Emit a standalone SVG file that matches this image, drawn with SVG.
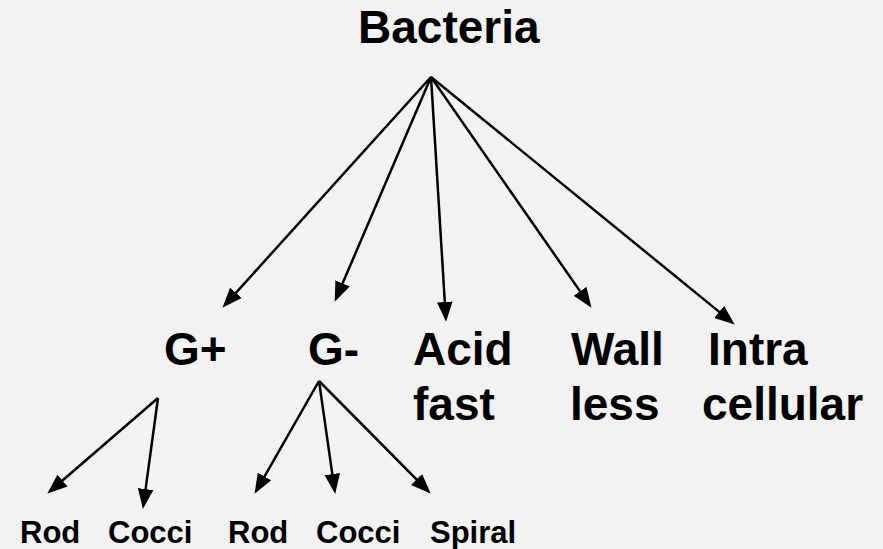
<svg xmlns="http://www.w3.org/2000/svg" width="883" height="549" viewBox="0 0 883 549">
<style>
.t{font-family:"Liberation Sans",Arial,sans-serif;font-weight:bold;fill:#000}
.big{font-size:46px}
.small{font-size:31px}
.c line{stroke:#000;stroke-width:2.5;marker-end:url(#ah)}
</style>
<defs>
<marker id="ah" markerUnits="userSpaceOnUse" markerWidth="20" markerHeight="16" viewBox="0 0 18 14" refX="10" refY="7" orient="auto">
<path d="M0,0 L18,7 L0,14 z" fill="#000"/>
</marker>
</defs>
<rect width="883" height="549" fill="#f2f2f2"/>
<g id="bacteria"><text class="t big" x="358" y="43">Bacteria</text></g>
<g id="gpos"><text class="t big" x="164" y="365">G+</text></g>
<g id="gneg"><text class="t big" x="308" y="365">G-</text></g>
<g id="acidfast"><text class="t big" x="413" y="365">Acid</text><text class="t big" x="413" y="420">fast</text></g>
<g id="wallless"><text class="t big" x="571" y="365">Wall</text><text class="t big" x="570" y="420">less</text></g>
<g id="intracellular"><text class="t big" x="708" y="365">Intra</text><text class="t big" x="702" y="420">cellular</text></g>
<g id="gpos-rod"><text class="t small" x="20" y="543">Rod</text></g>
<g id="gpos-cocci"><text class="t small" x="108" y="543">Cocci</text></g>
<g id="gneg-rod"><text class="t small" x="228" y="543">Rod</text></g>
<g id="gneg-cocci"><text class="t small" x="316" y="543">Cocci</text></g>
<g id="gneg-spiral"><text class="t small" x="430" y="543">Spiral</text></g>
<g id="connectors" class="c">
<line x1="431" y1="77" x2="228.4" y2="301.1"/>
<line x1="431" y1="77" x2="338.2" y2="293.6"/>
<line x1="431" y1="77" x2="445.5" y2="313"/>
<line x1="431" y1="77" x2="586.4" y2="300.4"/>
<line x1="431" y1="77" x2="727.8" y2="318.9"/>
<line x1="158" y1="398" x2="54.1" y2="487.8"/>
<line x1="158" y1="398" x2="144.1" y2="500.1"/>
<line x1="319" y1="381" x2="259" y2="486.1"/>
<line x1="319" y1="381" x2="333.9" y2="485.1"/>
<line x1="319" y1="381" x2="424.4" y2="487.3"/>
</g>
</svg>
